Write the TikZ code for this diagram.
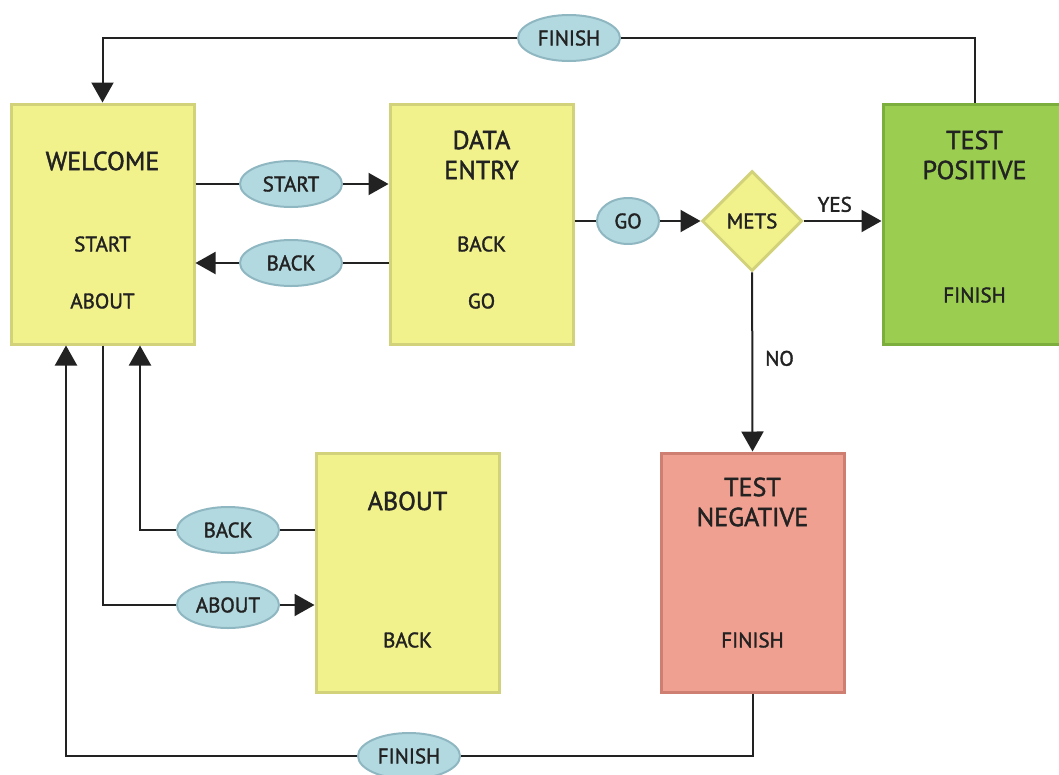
\documentclass[tikz,border=0pt]{standalone}
\usepackage{fontspec}
\setmainfont{PT Sans}[UprightFeatures={FakeBold=1.6}]
\usetikzlibrary{arrows.meta,shapes.geometric}

\definecolor{boxyellow}{HTML}{F2F28C}
\definecolor{boxyellowline}{HTML}{D2D27A}
\definecolor{boxgreen}{HTML}{9ACD50}
\definecolor{boxgreenline}{HTML}{7BAE3C}
\definecolor{boxred}{HTML}{EFA090}
\definecolor{boxredline}{HTML}{CF7F72}
\definecolor{tagblue}{HTML}{B3D9E0}
\definecolor{tagline}{HTML}{8FB7C2}
\definecolor{wirecol}{HTML}{222222}

\tikzset{
  screen/.style={draw=boxyellowline, fill=boxyellow, line width=3pt,
    minimum width=183pt, minimum height=240pt, inner sep=0pt},
  tag/.style={ellipse, draw=tagline, fill=tagblue, line width=2pt,
    minimum width=102pt, minimum height=46pt, inner sep=0pt,
    font=\fontsize{21}{24}\selectfont},
  title/.style={font=\fontsize{26}{30}\selectfont, align=center},
  item/.style={font=\fontsize{21}{24}\selectfont},
  wire/.style={line width=2pt, draw=wirecol},
  arr/.style={wire, -{Triangle[length=20pt,width=22pt]}}
}

\begin{document}
\begin{tikzpicture}[x=1pt,y=-1pt, text=wirecol]
      \fill[white] (0,0) rectangle (1059,774);
      \useasboundingbox (0,0) rectangle (1059,774);
      % Screens
      \node[screen] (welcome) at (102.5,224) {};
      \node[title] (welcometitle) at (102.5,161) {WELCOME};
      \node[item] (welcomestart) at (102.5,244) {START};
      \node[item] (welcomeabout) at (102.5,301) {ABOUT};
      \node[screen] (dataentry) at (481.5,224) {};
      \node[title] (dataentrytitle) at (481.5,155) {DATA\\ENTRY};
      \node[item] (dataentryback) at (481.5,244) {BACK};
      \node[item] (dataentrygo) at (481.5,301) {GO};
      \node[screen, fill=boxgreen, draw=boxgreenline] (testpos) at (974.5,224) {};
      \node[title] (testpostitle) at (974.5,155) {TEST\\POSITIVE};
      \node[item] (testposfinish) at (974.5,295) {FINISH};
      \node[screen, minimum height=239pt] (about) at (407.5,572.5) {};
      \node[title] (abouttitle) at (407.5,501) {ABOUT};
      \node[item] (aboutback) at (407.5,640) {BACK};
      \node[screen, minimum height=239pt, fill=boxred, draw=boxredline] (testneg) at (752.5,572.5) {};
      \node[title] (testnegtitle) at (752.5,502) {TEST\\NEGATIVE};
      \node[item] (testnegfinish) at (752.5,640) {FINISH};
      % Decision
      \node[diamond, aspect=1, draw=boxyellowline, fill=boxyellow, line width=3pt,
        minimum width=100pt, minimum height=100pt, inner sep=0pt, item] (mets) at (752,221) {METS};
      % Buttons
      \node[tag] (finishtop) at (569,38) {FINISH};
      \node[tag] (tagstart) at (291,184) {START};
      \node[tag] (tagback) at (291,263) {BACK};
      \node[tag, minimum width=62pt] (taggo) at (628,221) {GO};
      \node[tag] (tagaboutback) at (228,530) {BACK};
      \node[tag] (tagabout) at (228,605) {ABOUT};
      \node[tag] (finishbottom) at (409,756) {FINISH};
      % Top loop
      \draw[wire] (testpos.north) |- (finishtop);
      \draw[arr] (finishtop) -| (welcome.north);
      % Welcome <-> data entry
      \draw[wire] (welcome.east |- tagstart) -- (tagstart);
      \draw[arr] (tagstart) -- (dataentry.west |- tagstart);
      \draw[wire] (dataentry.west |- tagback) -- (tagback);
      \draw[arr] (tagback) -- (welcome.east |- tagback);
      % Data entry to tests
      \draw[wire] (dataentry.east |- taggo) -- (taggo);
      \draw[arr] (taggo) -- (mets);
      \draw[arr] (mets) -- node[item, above, pos=0.4, inner sep=8pt] (yes) {YES} (testpos.west |- mets);
      \draw[arr] (mets) -- node[item, right, pos=0.48, inner sep=12pt] (no) {NO} (testneg.north);
      % Bottom loop
      \draw[wire] (testneg.south) |- (finishbottom);
      \draw[arr] (finishbottom) -| ([xshift=-36.5pt]welcome.south);
      % Welcome <-> about
      \draw[wire] (about.west |- tagaboutback) -- (tagaboutback);
      \draw[arr] (tagaboutback) -| ([xshift=37.5pt]welcome.south);
      \draw[wire] (welcome.south) |- (tagabout);
      \draw[arr] (tagabout) -- (about.west |- tagabout);
\end{tikzpicture}
\end{document}
